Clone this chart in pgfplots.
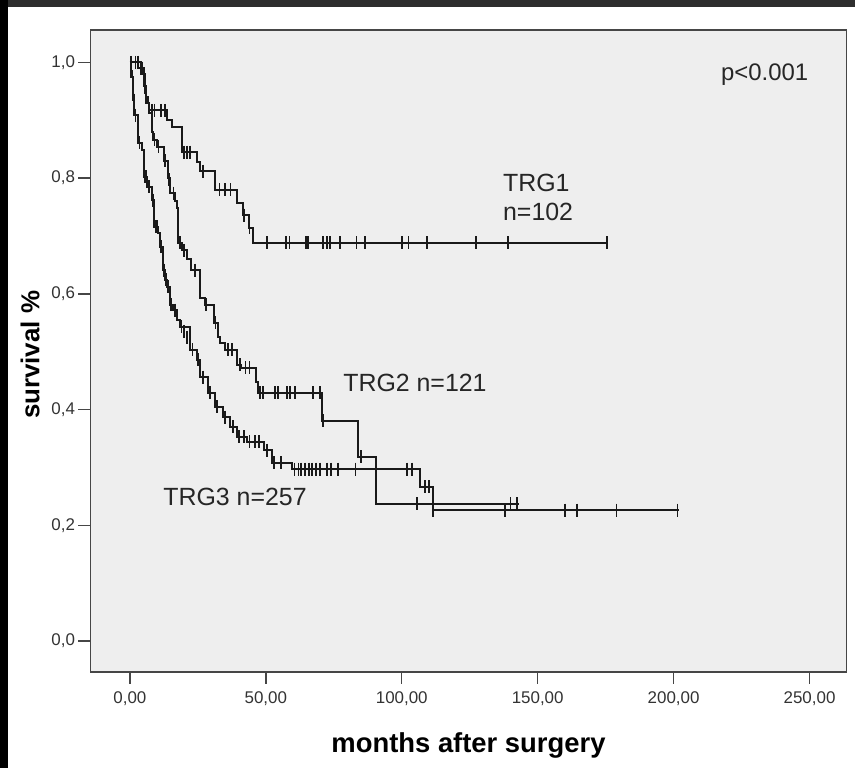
\documentclass[border=0pt]{standalone}
\usepackage{pgfplots}
\pgfplotsset{compat=1.18}
\usepackage{fontspec}
\setmainfont{Liberation Sans}
\definecolor{bgc}{RGB}{238,238,238}
\definecolor{ln}{RGB}{25,25,25}
\definecolor{fr}{RGB}{70,70,70}
\begin{document}
\begin{tikzpicture}
\path[use as bounding box, fill=white] (0bp,0bp) rectangle (855bp,768bp);
\fill[black!82] (0bp,761bp) rectangle (855bp,768bp);
\fill[black] (0bp,0bp) rectangle (8bp,768bp);
\begin{axis}[
  at={(90.5bp,96bp)}, anchor=south west, scale only axis,
  width=756bp, height=642bp,
  xmin=-14.5, xmax=263.6, ymin=-0.0536, ymax=1.056,
  axis background/.style={fill=bgc},
  axis line style={draw=fr, line width=1.4bp},
  xtick={0,50,100,150,200,250},
  xticklabels={{0,00},{50,00},{100,00},{150,00},{200,00},{250,00}},
  ytick={0,0.2,0.4,0.6,0.8,1},
  yticklabels={{0,0},{0,2},{0,4},{0,6},{0,8},{1,0}},
  tick align=outside, xtick pos=bottom, ytick pos=left,
  major tick length=12bp,
  tick style={draw=fr, line width=1.4bp},
  every tick label/.append style={font=\fontsize{17}{17}\selectfont, text=black!80},
  xticklabel style={yshift=-4bp},
  xlabel={\bfseries months after surgery},
  ylabel={\bfseries survival \%},
  xlabel style={font=\fontsize{27.5}{27.5}\selectfont, at={(axis description cs:0.5,-0.114)}, anchor=center},
  ylabel style={font=\fontsize{26}{26}\selectfont, at={(axis description cs:-0.08,0.494)}, anchor=center},
]
% TRG1
\addplot[const plot, line width=2bp, ln, no markers] table[row sep=\\]{
x y\\ 0 1.0\\ 4 0.99\\ 5 0.98\\ 5.5 0.96\\ 6 0.94\\ 6.5 0.93\\ 7 0.917\\ 13.5 0.90\\ 15.5 0.889\\ 19.3 0.845\\ 24.7 0.828\\ 25.8 0.812\\ 31.3 0.78\\ 39.4 0.757\\ 41.6 0.736\\ 43.8 0.714\\ 45.3 0.688\\ 176 0.688\\
};
\addplot[only marks, mark=|, mark size=6.5bp, mark options={line width=1.7bp, ln}] table[row sep=\\]{
x y\\ 2 1.0\\ 3 1.0\\ 4.5 0.99\\ 8 0.917\\ 9 0.917\\ 11.5 0.917\\ 13 0.917\\ 20 0.845\\ 21 0.845\\ 22 0.845\\ 27 0.812\\ 33 0.78\\ 35 0.78\\ 37 0.78\\ 42 0.736\\ 44 0.714\\
50.3 0.688\\ 57.4 0.688\\ 58.7 0.688\\ 64.8 0.688\\ 65.6 0.688\\ 71.0 0.688\\ 72.4 0.688\\ 73.6 0.688\\ 77.3 0.688\\ 83.4 0.688\\ 86.6 0.688\\ 100.0 0.688\\ 102.5 0.688\\ 109.2 0.688\\ 127.4 0.688\\ 139.1 0.688\\ 175.5 0.688\\
};
% TRG2
\addplot[const plot, line width=2bp, ln, no markers] table[row sep=\\]{
x y\\ 0 1.0\\ 3 0.99\\ 4 0.98\\ 5 0.96\\ 5.5 0.947\\ 6 0.93\\ 7 0.913\\ 8 0.88\\ 8.5 0.866\\ 10 0.854\\ 12.5 0.83\\ 14 0.80\\ 14.7 0.774\\ 16.5 0.76\\ 17.5 0.748\\ 17.7 0.688\\ 19 0.675\\ 21 0.66\\ 22.5 0.641\\ 25.8 0.593\\ 27.6 0.581\\ 31 0.55\\ 32.4 0.526\\ 33 0.515\\ 35 0.503\\ 39.4 0.477\\ 41 0.472\\ 46.5 0.448\\ 47 0.429\\ 70.7 0.381\\ 84 0.318\\ 90.6 0.237\\ 143 0.237\\
};
\addplot[only marks, mark=|, mark size=6.5bp, mark options={line width=1.7bp, ln}] table[row sep=\\]{
x y\\ 3 1.0\\ 4 0.99\\ 9 0.866\\ 10.5 0.854\\ 13 0.83\\ 14.5 0.797\\ 16 0.774\\ 18.5 0.688\\ 20 0.675\\ 24 0.641\\ 28 0.581\\ 31.5 0.55\\ 36 0.503\\ 37.5 0.503\\ 40.5 0.477\\ 42.5 0.472\\ 44 0.472\\
47.9 0.429\\ 49 0.429\\ 53.4 0.429\\ 54.5 0.429\\ 57.8 0.429\\ 58.9 0.429\\ 60.7 0.429\\ 67.4 0.429\\ 70.0 0.429\\ 71.1 0.381\\ 85 0.318\\ 105.5 0.237\\ 140 0.237\\ 142.5 0.237\\
};
% TRG3
\addplot[const plot, line width=2bp, ln, no markers] table[row sep=\\]{
x y\\ 0 1.0\\ 0.5 0.975\\ 1 0.935\\ 1.5 0.909\\ 3 0.861\\ 4.5 0.849\\ 5 0.802\\ 6.3 0.785\\ 8 0.762\\ 9 0.716\\ 10.3 0.705\\ 11 0.681\\ 12.2 0.641\\ 13 0.624\\ 13.6 0.612\\ 14.7 0.581\\ 16 0.572\\ 17.5 0.555\\ 18.4 0.543\\ 22 0.503\\ 24.7 0.486\\ 25.8 0.456\\ 28.7 0.429\\ 31.3 0.405\\ 34.2 0.387\\ 36.8 0.37\\ 39.4 0.353\\ 43 0.344\\ 49.4 0.330\\ 52.3 0.308\\ 59.6 0.297\\ 106.8 0.267\\ 111.6 0.226\\ 201.8 0.226\\
};
\addplot[only marks, mark=|, mark size=6.5bp, mark options={line width=1.7bp, ln}] table[row sep=\\]{
x y\\ 0.5 1.0\\ 1 0.975\\ 1.5 0.935\\ 2 0.909\\ 3.5 0.861\\ 5.5 0.802\\ 6 0.802\\ 7 0.785\\ 8.5 0.762\\ 9.5 0.716\\ 10 0.716\\ 11.5 0.681\\ 12.5 0.641\\ 13.3 0.624\\ 14 0.612\\ 15 0.581\\ 16.5 0.572\\ 19 0.543\\ 20 0.535\\ 21 0.525\\ 23 0.503\\ 25 0.486\\ 27 0.456\\ 29.5 0.429\\ 32 0.405\\ 35 0.387\\ 38 0.37\\ 40 0.353\\ 42 0.353\\ 44 0.344\\ 46 0.344\\ 47.5 0.344\\ 50.5 0.330\\ 53 0.308\\ 55.5 0.308\\
60.5 0.297\\ 62 0.297\\ 63 0.297\\ 64.5 0.297\\ 66 0.297\\ 67 0.297\\ 68.5 0.297\\ 70 0.297\\ 72.5 0.297\\ 74 0.297\\ 76.5 0.297\\ 83 0.297\\ 102 0.297\\ 103.8 0.297\\ 108.5 0.267\\ 110 0.267\\ 111.6 0.226\\ 138 0.226\\ 160 0.226\\ 164.5 0.226\\ 179 0.226\\ 201.4 0.226\\
};
\node[font=\fontsize{24}{24}\selectfont, text=black!85] at (axis cs:233.5,0.978) {p<0.001};
\node[font=\fontsize{25}{25}\selectfont, text=black!85, anchor=west] at (axis cs:136,0.792) {TRG1};
\node[font=\fontsize{25}{25}\selectfont, text=black!85, anchor=west] at (axis cs:136,0.742) {n=102};
\node[font=\fontsize{25}{25}\selectfont, text=black!85, anchor=west] at (axis cs:77.2,0.446) {TRG2 n=121};
\node[font=\fontsize{25}{25}\selectfont, text=black!85, anchor=west] at (axis cs:11,0.249) {TRG3 n=257};
\end{axis}
\end{tikzpicture}
\end{document}
